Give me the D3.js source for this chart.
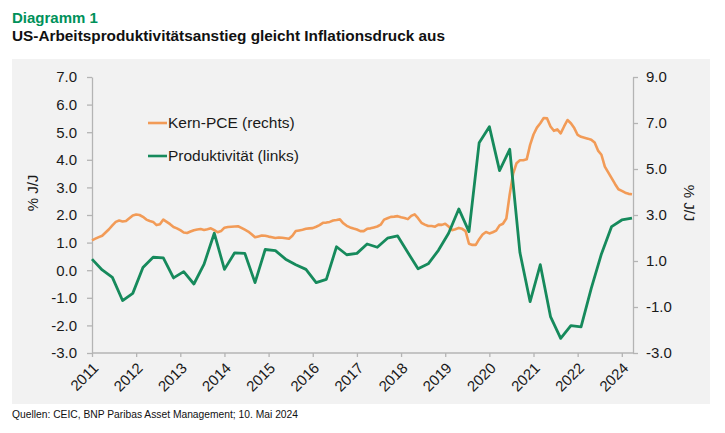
<!DOCTYPE html>
<html>
<head>
<meta charset="utf-8">
<script src="https://cdn.jsdelivr.net/npm/d3@7/dist/d3.min.js"></script>
<style>
  body { margin: 0; background: #fff; }
  svg text { font-family: "Liberation Sans", Arial, sans-serif; }
</style>
</head>
<body>
<div id="chart"></div>
<script>
// --- data ---
// year labels on the x axis (2023 is skipped in the original)
var tickLabels = ["2011","2012","2013","2014","2015","2016","2017","2018","2019","2020","2021","2022","2024"];
var leftTicks = [7, 6, 5, 4, 3, 2, 1, 0, -1, -2, -3];
var rightTicks = [9, 7, 5, 3, 1, -1, -3];

// productivity, % y/y, quarterly (left axis)
var productivity = [0.40, 0.01, -0.26, -1.10, -0.84, 0.10, 0.47, 0.45, -0.28, -0.05,
  -0.50, 0.22, 1.34, 0.03, 0.63, 0.61, -0.45, 0.75, 0.71, 0.40,
  0.20, 0.03, -0.45, -0.33, 0.85, 0.56, 0.61, 0.95, 0.83, 1.16,
  1.24, 0.64, 0.05, 0.23, 0.72, 1.34, 2.22, 1.40, 4.62, 5.20,
  3.61, 4.38, 0.64, -1.14, 0.20, -1.68, -2.47, -2.01, -2.05, -0.66,
  0.59, 1.58, 1.82, 1.89];

// core PCE, % y/y, monthly (right axis)
var corePce = [1.90, 1.97, 2.04, 2.10, 2.24, 2.38, 2.55, 2.70, 2.76, 2.72,
  2.74, 2.86, 2.98, 3.02, 3.00, 2.92, 2.80, 2.74, 2.70, 2.56,
  2.60, 2.80, 2.70, 2.60, 2.48, 2.42, 2.34, 2.24, 2.22, 2.28,
  2.34, 2.37, 2.39, 2.35, 2.38, 2.42, 2.34, 2.25, 2.30, 2.45,
  2.48, 2.49, 2.50, 2.51, 2.44, 2.36, 2.28, 2.16, 2.03, 2.07,
  2.11, 2.10, 2.06, 2.03, 2.00, 2.02, 2.01, 1.99, 1.97, 2.10,
  2.30, 2.33, 2.36, 2.40, 2.42, 2.43, 2.49, 2.56, 2.66, 2.67,
  2.70, 2.76, 2.78, 2.81, 2.64, 2.53, 2.46, 2.41, 2.37, 2.30,
  2.30, 2.40, 2.42, 2.46, 2.50, 2.58, 2.80, 2.86, 2.92, 2.93,
  2.95, 2.90, 2.87, 2.82, 2.96, 3.03, 2.86, 2.66, 2.58, 2.52,
  2.52, 2.49, 2.58, 2.57, 2.62, 2.50, 2.34, 2.38, 2.44, 2.40,
  2.30, 1.75, 1.70, 1.70, 1.95, 2.15, 2.26, 2.20, 2.25, 2.32,
  2.55, 2.62, 2.85, 3.90, 4.80, 5.25, 5.38, 5.38, 5.42, 6.05,
  6.50, 6.80, 6.99, 7.22, 7.20, 6.85, 6.66, 6.72, 6.55, 6.85,
  7.13, 6.99, 6.78, 6.48, 6.40, 6.36, 6.32, 6.27, 6.15, 5.80,
  5.62, 5.10, 4.85, 4.60, 4.35, 4.12, 4.05, 3.97, 3.92, 3.90];

// --- layout ---
var width = 725, height = 433;
var plot = { left: 92, right: 632, top: 77, bottom: 353 };
var green = "#168a5c", orange = "#f29b57", axisGrey = "#b4b4b4", textCol = "#1a1a1a";

var svg = d3.select("#chart").append("svg")
	.attr("width", width)
	.attr("height", height);

// header
svg.append("text")
	.attr("x", 12).attr("y", 23)
	.attr("fill", "#00915a")
	.style("font-size", "15px").style("font-weight", "bold")
	.text("Diagramm 1");
svg.append("text")
	.attr("x", 12).attr("y", 41)
	.attr("fill", "#111")
	.style("font-size", "15px").style("font-weight", "bold")
	.attr("textLength", 433).attr("lengthAdjust", "spacingAndGlyphs")
	.text("US-Arbeitsproduktivitätsanstieg gleicht Inflationsdruck aus");

// grey panel
svg.append("rect")
	.attr("x", 12).attr("y", 59)
	.attr("width", 698).attr("height", 345)
	.attr("fill", "#f2f2f2");

// months since the first observation
var x = d3.scaleLinear().domain([0, corePce.length - 1]).range([plot.left, plot.right]);
var yLeft = d3.scaleLinear().domain([-3, 7]).range([plot.bottom, plot.top]);
var yRight = d3.scaleLinear().domain([-3, 9]).range([plot.bottom, plot.top]);
var fmt = function(d) { return d.toFixed(1); };

// left axis
var gl = svg.append("g")
	.attr("transform", "translate(" + plot.left + ",0)")
	.call(d3.axisLeft(yLeft).tickValues(leftTicks).tickFormat(fmt).tickSize(5).tickSizeOuter(0).tickPadding(10));

// right axis
var gr = svg.append("g")
	.attr("transform", "translate(" + (plot.right + 1) + ",0)")
	.call(d3.axisRight(yRight).tickValues(rightTicks).tickFormat(fmt).tickSize(5).tickSizeOuter(0).tickPadding(8));

// x axis - the excel date axis puts a major tick roughly every 13 months
var gx = svg.append("g")
	.attr("transform", "translate(0," + plot.bottom + ")")
	.call(d3.axisBottom(x)
		.tickValues(tickLabels.map(function(d, i) { return i * 13; }))
		.tickFormat(function(d, i) { return tickLabels[i]; })
		.tickSize(4).tickSizeOuter(0));
gx.select(".domain").attr("d", "M" + plot.left + ",0H" + (plot.right + 1));

gx.selectAll("text")
	.attr("text-anchor", "end")
	.attr("dy", null).attr("y", null)
	.attr("transform", "translate(7,16) rotate(-45)");

[gl, gr, gx].forEach(function(g) {
	g.select(".domain").attr("stroke", axisGrey).attr("stroke-width", 1.3);
	g.selectAll(".tick line").attr("stroke", axisGrey).attr("stroke-width", 1.3);
	g.selectAll("text").attr("fill", textCol).style("font-size", "15px")
		.style("font-family", "'Liberation Sans', Arial, sans-serif");
});

// axis titles
svg.append("text")
	.attr("transform", "translate(38,193) rotate(-90)")
	.attr("text-anchor", "middle")
	.attr("fill", textCol).style("font-size", "15px")
	.text("% J/J");
svg.append("text")
	.attr("transform", "translate(684,203) rotate(90)")
	.attr("text-anchor", "middle")
	.attr("fill", textCol).style("font-size", "15px")
	.text("% J/J");

// lines
var pceLine = d3.line()
	.x(function(d, i) { return x(i); })
	.y(function(d) { return yRight(d); });
var prodLine = d3.line()
	.x(function(d, i) { return x(i * 3); })
	.y(function(d) { return yLeft(d); });

svg.append("path")
	.datum(corePce)
	.attr("d", pceLine)
	.attr("fill", "none")
	.attr("stroke", orange)
	.attr("stroke-width", 2.6)
	.attr("stroke-linejoin", "round");

svg.append("path")
	.datum(productivity)
	.attr("d", prodLine)
	.attr("fill", "none")
	.attr("stroke", green)
	.attr("stroke-width", 2.8)
	.attr("stroke-linejoin", "round");

// legend
var legend = [
	{ label: "Kern-PCE (rechts)", color: orange, y: 123 },
	{ label: "Produktivität (links)", color: green, y: 156 }
];
var lg = svg.selectAll(".legend")
	.data(legend)
	.enter().append("g")
	.attr("class", "legend");
lg.append("line")
	.attr("x1", 148).attr("x2", 167)
	.attr("y1", function(d) { return d.y; }).attr("y2", function(d) { return d.y; })
	.attr("stroke", function(d) { return d.color; })
	.attr("stroke-width", 2.6);
lg.append("text")
	.attr("x", 168)
	.attr("y", function(d) { return d.y + 5; })
	.attr("fill", textCol).style("font-size", "15.5px")
	.text(function(d) { return d.label; });

// source
svg.append("text")
	.attr("x", 12).attr("y", 418)
	.attr("fill", "#111").style("font-size", "11px")
	.attr("textLength", 286).attr("lengthAdjust", "spacingAndGlyphs")
	.text("Quellen: CEIC, BNP Paribas Asset Management; 10. Mai 2024");
</script>
</body>
</html>
